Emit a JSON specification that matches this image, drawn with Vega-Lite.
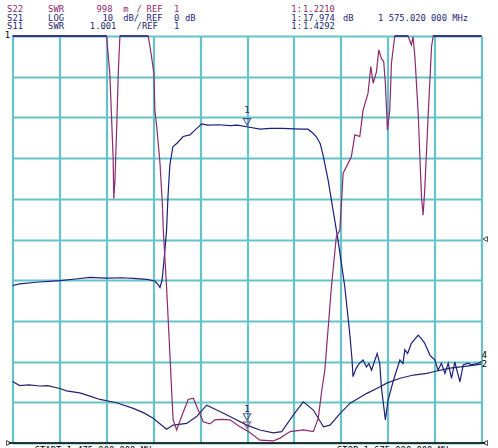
{
  "$schema": "https://vega.github.io/schema/vega-lite/v6.json",
  "width": 469,
  "height": 407,
  "autosize": {"type": "none"},
  "padding": {"left": 12.5, "top": 36, "right": 16.5, "bottom": 5},
  "background": "white",
  "config": {"view": {"stroke": null}},
  "datasets": {
    "traces": [
      {"trace":"S21","f":1475.0,"v":3.87},{"trace":"S21","f":1478.1,"v":3.91},{"trace":"S21","f":1485,"v":3.95},{"trace":"S21","f":1495.2,"v":3.99},{"trace":"S21","f":1502,"v":4.03},{"trace":"S21","f":1508.0,"v":4.07},{"trace":"S21","f":1515,"v":4.05},{"trace":"S21","f":1522.1,"v":4.06},{"trace":"S21","f":1528,"v":4.04},{"trace":"S21","f":1532.3,"v":4.02},{"trace":"S21","f":1535.7,"v":3.98},{"trace":"S21","f":1537.3,"v":3.88},{"trace":"S21","f":1537.9,"v":3.82},{"trace":"S21","f":1538.8,"v":4.0},{"trace":"S21","f":1540.0,"v":4.74},{"trace":"S21","f":1540.7,"v":5.23},{"trace":"S21","f":1541.3,"v":6.05},{"trace":"S21","f":1542.1,"v":6.83},{"trace":"S21","f":1543.4,"v":7.28},{"trace":"S21","f":1545.0,"v":7.36},{"trace":"S21","f":1547.8,"v":7.53},{"trace":"S21","f":1550.7,"v":7.57},{"trace":"S21","f":1553,"v":7.7},{"trace":"S21","f":1555.7,"v":7.84},{"trace":"S21","f":1558.4,"v":7.81},{"trace":"S21","f":1563,"v":7.82},{"trace":"S21","f":1567.7,"v":7.8},{"trace":"S21","f":1571,"v":7.81},{"trace":"S21","f":1574.9,"v":7.77},{"trace":"S21","f":1580.6,"v":7.71},{"trace":"S21","f":1585,"v":7.73},{"trace":"S21","f":1590.4,"v":7.73},{"trace":"S21","f":1595,"v":7.72},{"trace":"S21","f":1598.9,"v":7.71},{"trace":"S21","f":1601.0,"v":7.71},{"trace":"S21","f":1603.2,"v":7.61},{"trace":"S21","f":1604.5,"v":7.53},{"trace":"S21","f":1606.2,"v":7.36},{"trace":"S21","f":1607.4,"v":7.08},{"trace":"S21","f":1609.6,"v":6.46},{"trace":"S21","f":1611.7,"v":5.72},{"trace":"S21","f":1613.1,"v":5.23},{"trace":"S21","f":1613.8,"v":4.99},{"trace":"S21","f":1616.7,"v":3.84},{"trace":"S21","f":1618.8,"v":2.7},{"trace":"S21","f":1619.8,"v":2.04},{"trace":"S21","f":1620.2,"v":1.63},{"trace":"S21","f":1621.6,"v":1.84},{"trace":"S21","f":1622.8,"v":1.95},{"trace":"S21","f":1624.5,"v":2.04},{"trace":"S21","f":1625.9,"v":1.87},{"trace":"S21","f":1627,"v":1.95},{"trace":"S21","f":1628.1,"v":1.79},{"trace":"S21","f":1630.5,"v":2.2},{"trace":"S21","f":1631.6,"v":1.96},{"trace":"S21","f":1632.3,"v":1.38},{"trace":"S21","f":1634.0,"v":0.57},{"trace":"S21","f":1635.2,"v":1.06},{"trace":"S21","f":1637.3,"v":1.51},{"trace":"S21","f":1640.2,"v":2.04},{"trace":"S21","f":1641.5,"v":1.95},{"trace":"S21","f":1642.3,"v":2.29},{"trace":"S21","f":1643.5,"v":2.2},{"trace":"S21","f":1645.1,"v":2.45},{"trace":"S21","f":1648.0,"v":2.65},{"trace":"S21","f":1649.5,"v":2.55},{"trace":"S21","f":1650.8,"v":2.45},{"trace":"S21","f":1653.0,"v":2.16},{"trace":"S21","f":1655.1,"v":2.04},{"trace":"S21","f":1656.5,"v":1.79},{"trace":"S21","f":1657.9,"v":1.96},{"trace":"S21","f":1659.4,"v":1.71},{"trace":"S21","f":1660.8,"v":1.96},{"trace":"S21","f":1662.2,"v":1.59},{"trace":"S21","f":1663.6,"v":1.99},{"trace":"S21","f":1665.8,"v":1.5},{"trace":"S21","f":1667.2,"v":1.92},{"trace":"S21","f":1669.3,"v":1.96},{"trace":"S21","f":1670.7,"v":1.92},{"trace":"S21","f":1673.6,"v":1.96},{"trace":"S21","f":1675.0,"v":2.0},
      {"trace":"S11","f":1475.0,"v":1.51},{"trace":"S11","f":1478.1,"v":1.41},{"trace":"S11","f":1482,"v":1.43},{"trace":"S11","f":1486.7,"v":1.4},{"trace":"S11","f":1490,"v":1.41},{"trace":"S11","f":1495.2,"v":1.34},{"trace":"S11","f":1498.0,"v":1.28},{"trace":"S11","f":1503.7,"v":1.23},{"trace":"S11","f":1508,"v":1.15},{"trace":"S11","f":1512.3,"v":1.07},{"trace":"S11","f":1519.4,"v":0.99},{"trace":"S11","f":1526.5,"v":0.85},{"trace":"S11","f":1531,"v":0.74},{"trace":"S11","f":1535.0,"v":0.61},{"trace":"S11","f":1540.7,"v":0.34},{"trace":"S11","f":1543.5,"v":0.44},{"trace":"S11","f":1549.3,"v":0.48},{"trace":"S11","f":1553.5,"v":0.65},{"trace":"S11","f":1557.8,"v":0.93},{"trace":"S11","f":1562.1,"v":0.81},{"trace":"S11","f":1569.2,"v":0.61},{"trace":"S11","f":1574.9,"v":0.44},{"trace":"S11","f":1580.5,"v":0.32},{"trace":"S11","f":1586.2,"v":0.25},{"trace":"S11","f":1589.8,"v":0.28},{"trace":"S11","f":1594.8,"v":0.69},{"trace":"S11","f":1599.0,"v":1.01},{"trace":"S11","f":1603.3,"v":0.81},{"trace":"S11","f":1607.6,"v":0.4},{"trace":"S11","f":1610.4,"v":0.44},{"trace":"S11","f":1614.7,"v":0.73},{"trace":"S11","f":1619.0,"v":0.98},{"trace":"S11","f":1626.1,"v":1.22},{"trace":"S11","f":1631.8,"v":1.38},{"trace":"S11","f":1634.6,"v":1.47},{"trace":"S11","f":1640.3,"v":1.59},{"trace":"S11","f":1646.0,"v":1.67},{"trace":"S11","f":1651.7,"v":1.71},{"trace":"S11","f":1654.5,"v":1.75},{"trace":"S11","f":1661.6,"v":1.84},{"trace":"S11","f":1668.8,"v":1.89},{"trace":"S11","f":1675.0,"v":1.94},
      {"trace":"S22","f":1475.0,"v":10},{"trace":"S22","f":1515.1,"v":10},{"trace":"S22","f":1516.5,"v":9.08},{"trace":"S22","f":1517.9,"v":7.03},{"trace":"S22","f":1518.2,"v":6.01},{"trace":"S22","f":1518.7,"v":6.46},{"trace":"S22","f":1519.4,"v":7.69},{"trace":"S22","f":1520.1,"v":9.08},{"trace":"S22","f":1520.8,"v":10},{"trace":"S22","f":1532.9,"v":10},{"trace":"S22","f":1534.3,"v":9.49},{"trace":"S22","f":1535.3,"v":9.08},{"trace":"S22","f":1535.7,"v":8.18},{"trace":"S22","f":1536.5,"v":7.77},{"trace":"S22","f":1537.9,"v":6.87},{"trace":"S22","f":1538.9,"v":5.89},{"trace":"S22","f":1539.3,"v":5.23},{"trace":"S22","f":1540.7,"v":3.84},{"trace":"S22","f":1542.1,"v":2.21},{"trace":"S22","f":1542.9,"v":1.23},{"trace":"S22","f":1543.5,"v":0.57},{"trace":"S22","f":1544.3,"v":0.44},{"trace":"S22","f":1545.0,"v":0.32},{"trace":"S22","f":1547.1,"v":0.65},{"trace":"S22","f":1549.9,"v":1.07},{"trace":"S22","f":1552.1,"v":1.1},{"trace":"S22","f":1554.2,"v":0.81},{"trace":"S22","f":1556.3,"v":0.52},{"trace":"S22","f":1559.2,"v":0.47},{"trace":"S22","f":1561.3,"v":0.57},{"trace":"S22","f":1564.2,"v":0.58},{"trace":"S22","f":1567.7,"v":0.57},{"trace":"S22","f":1572.0,"v":0.4},{"trace":"S22","f":1575.6,"v":0.28},{"trace":"S22","f":1580.5,"v":0.07},{"trace":"S22","f":1586.2,"v":0.05},{"trace":"S22","f":1589.1,"v":0.12},{"trace":"S22","f":1593.4,"v":0.28},{"trace":"S22","f":1599.0,"v":0.32},{"trace":"S22","f":1603.3,"v":0.28},{"trace":"S22","f":1605.4,"v":0.61},{"trace":"S22","f":1606.9,"v":1.3},{"trace":"S22","f":1608.2,"v":1.79},{"trace":"S22","f":1611.0,"v":3.84},{"trace":"S22","f":1613.1,"v":5.07},{"trace":"S22","f":1614.6,"v":5.23},{"trace":"S22","f":1616.0,"v":6.63},{"trace":"S22","f":1619.5,"v":7.03},{"trace":"S22","f":1621.0,"v":7.57},{"trace":"S22","f":1623.1,"v":7.53},{"trace":"S22","f":1624.5,"v":8.18},{"trace":"S22","f":1626.6,"v":8.59},{"trace":"S22","f":1627.8,"v":9.25},{"trace":"S22","f":1628.8,"v":8.84},{"trace":"S22","f":1630.2,"v":9.12},{"trace":"S22","f":1631.2,"v":9.66},{"trace":"S22","f":1632.3,"v":9.45},{"trace":"S22","f":1633.3,"v":9.37},{"trace":"S22","f":1634.0,"v":8.84},{"trace":"S22","f":1634.9,"v":7.69},{"trace":"S22","f":1635.9,"v":8.18},{"trace":"S22","f":1636.6,"v":9.33},{"trace":"S22","f":1638.0,"v":10},{"trace":"S22","f":1643.7,"v":10},{"trace":"S22","f":1645.1,"v":9.78},{"trace":"S22","f":1645.8,"v":9.98},{"trace":"S22","f":1646.6,"v":9.49},{"trace":"S22","f":1648.0,"v":8.1},{"trace":"S22","f":1649.4,"v":6.05},{"trace":"S22","f":1650.1,"v":5.6},{"trace":"S22","f":1650.8,"v":6.22},{"trace":"S22","f":1652.3,"v":8.1},{"trace":"S22","f":1653.7,"v":9.74},{"trace":"S22","f":1654.4,"v":10},{"trace":"S22","f":1675.0,"v":10}
    ],
    "rules": [
      {"f":1475,"f2":1515.1,"v":10,"c":"S21"},
      {"f":1520.8,"f2":1532.9,"v":10,"c":"S21"},
      {"f":1638,"f2":1643.7,"v":10,"c":"S21"},
      {"f":1654.4,"f2":1675,"v":10,"c":"S21"},
      {"f":1473.4,"f2":1676.6,"v":0,"c":"frame"}
    ],
    "tokens": [
      {"t":"S22","f":1472.7,"v":10.66,"c":"S22"},{"t":"SWR","f":1490.19,"v":10.66,"c":"S22"},{"t":"998","f":1510.85,"v":10.66,"c":"S22"},{"t":"m","f":1522.2,"v":10.66,"c":"S22"},{"t":"/","f":1527.92,"v":10.66,"c":"S22"},{"t":"REF","f":1532.19,"v":10.66,"c":"S22"},{"t":"1","f":1543.84,"v":10.66,"c":"S22"},{"t":"1:","f":1593.91,"v":10.66,"c":"S22"},{"t":"1.2210","f":1598.9,"v":10.66,"c":"S22"},
      {"t":"S21","f":1472.7,"v":10.45,"c":"S21"},{"t":"LOG","f":1490.19,"v":10.45,"c":"S21"},{"t":"10","f":1513.41,"v":10.45,"c":"S21"},{"t":"dB/","f":1522.2,"v":10.45,"c":"S21"},{"t":"REF","f":1532.19,"v":10.45,"c":"S21"},{"t":"0","f":1543.84,"v":10.45,"c":"S21"},{"t":"dB","f":1548.54,"v":10.45,"c":"S21"},{"t":"1:","f":1593.91,"v":10.45,"c":"S21"},{"t":"17.974","f":1598.9,"v":10.45,"c":"S21"},{"t":"dB","f":1615.97,"v":10.45,"c":"S21"},{"t":"1 575.020 000 MHz","f":1630.91,"v":10.45,"c":"S21"},
      {"t":"S11","f":1472.7,"v":10.24,"c":"S11"},{"t":"SWR","f":1490.19,"v":10.24,"c":"S11"},{"t":"1.001","f":1507.99,"v":10.24,"c":"S11"},{"t":"/REF","f":1527.92,"v":10.24,"c":"S11"},{"t":"1","f":1543.84,"v":10.24,"c":"S11"},{"t":"1:","f":1593.91,"v":10.24,"c":"S11"},{"t":"1.4292","f":1598.9,"v":10.24,"c":"S11"},
      {"t":"1","f":1471.7,"v":10.03,"c":"frame"},
      {"t":"4","f":1675.1,"v":2.16,"c":"frame"},
      {"t":"2","f":1675.1,"v":1.94,"c":"frame"},
      {"t":"START 1 475.000 000 MHz","f":1484.5,"v":-0.16,"c":"frame"},
      {"t":"STOP 1 675.000 000 MHz","f":1613.4,"v":-0.16,"c":"frame"}
    ],
    "markerLabels": [
      {"t":"1","f":1575.02,"v":8.18,"c":"S21"},
      {"t":"1","f":1575.02,"v":0.84,"c":"S11"}
    ],
    "markers": [
      {"f":1575.02,"v":7.89,"c":"S21"},
      {"f":1575.02,"v":0.64,"c":"S11"},
      {"f":1575.02,"v":0.44,"c":"S22"}
    ],
    "refs": [
      {"f":1676.6,"v":5.01,"k":"left"},
      {"f":1676.6,"v":0,"k":"left"},
      {"f":1473.4,"v":0,"k":"right"}
    ]
  },
  "layer": [
    {
      "data": {"name": "traces"},
      "mark": {"type": "line", "strokeWidth": 1.2, "interpolate": "linear"},
      "encoding": {
        "x": {"field": "f", "type": "quantitative",
              "scale": {"domain": [1475, 1675], "nice": false, "zero": false},
              "axis": {"values": [1475,1495,1515,1535,1555,1575,1595,1615,1635,1655,1675], "labels": false, "ticks": false, "domain": false, "title": null, "grid": true, "gridColor": "#66c3ca", "gridWidth": 2.2}},
        "y": {"field": "v", "type": "quantitative",
              "scale": {"domain": [0, 10], "nice": false, "zero": false},
              "axis": {"values": [0,1,2,3,4,5,6,7,8,9,10], "labels": false, "ticks": false, "domain": false, "title": null, "grid": true, "gridColor": "#66c3ca", "gridWidth": 2.2}},
        "color": {"field": "trace", "type": "nominal",
                  "scale": {"domain": ["S22","S21","S11","frame"], "range": ["#8c2a6e","#1e1e7c","#24246e","#000000"]},
                  "legend": null},
        "detail": {"field": "trace"}
      }
    },
    {
      "data": {"name": "rules"},
      "mark": {"type": "rule", "strokeWidth": 1.3},
      "encoding": {
        "x": {"field": "f", "type": "quantitative"},
        "x2": {"field": "f2"},
        "y": {"field": "v", "type": "quantitative"},
        "color": {"field": "c", "type": "nominal", "legend": null}
      }
    },
    {
      "data": {"name": "markers"},
      "mark": {"type": "point", "shape": "triangle-down", "filled": false, "size": 55, "strokeWidth": 1.1},
      "encoding": {
        "x": {"field": "f", "type": "quantitative"},
        "y": {"field": "v", "type": "quantitative"},
        "color": {"field": "c", "type": "nominal", "legend": null}
      }
    },
    {
      "data": {"name": "refs"},
      "mark": {"type": "point", "filled": false, "size": 26, "strokeWidth": 1, "color": "#000000", "clip": false},
      "encoding": {
        "x": {"field": "f", "type": "quantitative"},
        "y": {"field": "v", "type": "quantitative"},
        "shape": {"field": "k", "type": "nominal", "scale": {"domain": ["left","right"], "range": ["triangle-left","triangle-right"]}, "legend": null}
      }
    },
    {
      "data": {"name": "tokens"},
      "mark": {"type": "text", "align": "left", "baseline": "middle", "font": "DejaVu Sans Mono", "fontSize": 8.8},
      "encoding": {
        "x": {"field": "f", "type": "quantitative"},
        "y": {"field": "v", "type": "quantitative"},
        "text": {"field": "t"},
        "color": {"field": "c", "type": "nominal", "legend": null}
      }
    },
    {
      "data": {"name": "markerLabels"},
      "mark": {"type": "text", "align": "center", "baseline": "middle", "font": "DejaVu Sans Mono", "fontSize": 9},
      "encoding": {
        "x": {"field": "f", "type": "quantitative"},
        "y": {"field": "v", "type": "quantitative"},
        "text": {"field": "t"},
        "color": {"field": "c", "type": "nominal", "legend": null}
      }
    }
  ]
}
